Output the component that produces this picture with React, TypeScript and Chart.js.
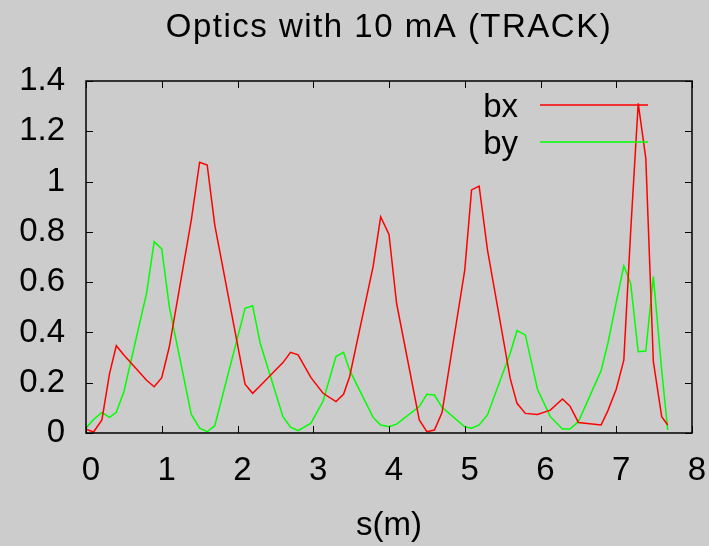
import React, { useEffect, useRef } from "react";
import { Chart, registerables } from "chart.js";

Chart.register(...registerables);

const chartTitle = "Optics with 10 mA (TRACK)";
const xAxisLabel = "s(m)";
const seriesNames = ["bx", "by"];

const sValues = [
  0, 0.1, 0.21, 0.31, 0.4, 0.5, 0.8, 0.9, 1.0, 1.1,
  1.39, 1.5, 1.6, 1.7, 2.1, 2.2, 2.3, 2.6, 2.7, 2.8,
  2.97, 3.13, 3.3, 3.4, 3.48, 3.79, 3.89, 4.0, 4.1, 4.4,
  4.5, 4.6, 4.7, 5.0, 5.09, 5.19, 5.3, 5.6, 5.69, 5.8,
  5.96, 6.13, 6.29, 6.39, 6.5, 6.8, 6.89, 7.0, 7.1, 7.19,
  7.29, 7.39, 7.49, 7.6, 7.68,
];

const bxValues = [
  0.015, 0.004, 0.052, 0.235, 0.347, 0.31, 0.21, 0.184, 0.22, 0.343,
  0.847, 1.077, 1.066, 0.827, 0.194, 0.158, 0.188, 0.28, 0.321, 0.311,
  0.22, 0.158, 0.125, 0.154, 0.224, 0.662, 0.86, 0.79, 0.516, 0.052,
  0.005, 0.012, 0.081, 0.648, 0.967, 0.982, 0.728, 0.217, 0.118, 0.078,
  0.074, 0.091, 0.135, 0.107, 0.042, 0.032, 0.089, 0.174, 0.29, 0.8,
  1.311, 1.093, 0.284, 0.065, 0.032,
];

const byValues = [
  0.02, 0.054, 0.082, 0.062, 0.082, 0.164, 0.556, 0.761, 0.732, 0.502,
  0.074, 0.019, 0.005, 0.029, 0.496, 0.506, 0.357, 0.065, 0.023, 0.009,
  0.039, 0.127, 0.304, 0.321, 0.25, 0.062, 0.032, 0.025, 0.035, 0.105,
  0.154, 0.151, 0.102, 0.025, 0.019, 0.032, 0.072, 0.317, 0.407, 0.39,
  0.174, 0.065, 0.016, 0.016, 0.045, 0.248, 0.357, 0.52, 0.665, 0.596,
  0.323, 0.326, 0.622, 0.25, 0.012,
];

const xTickValues = [0, 1, 2, 3, 4, 5, 6, 7, 8];
const yTickValues = [0, 0.2, 0.4, 0.6, 0.8, 1.0, 1.2, 1.4];

const FONT = "'Liberation Sans', Arial, sans-serif";
const BG = "#cccccc";

const framePlugin = {
  id: "gnuplotFrame",
  beforeDraw(chart: any) {
    const ctx = chart.ctx;
    ctx.save();
    ctx.fillStyle = BG;
    ctx.fillRect(0, 0, chart.width, chart.height);
    ctx.restore();
  },
  afterDraw(chart: any) {
    const ctx = chart.ctx;
    const { left, right, top, bottom } = chart.chartArea;
    const xs = chart.scales.x;
    const ys = chart.scales.y;
    ctx.save();
    // inner ticks (mirrored)
    ctx.strokeStyle = "#000";
    ctx.lineWidth = 1;
    const tl = 7;
    ctx.beginPath();
    xTickValues.forEach((v) => {
      const px = Math.round(xs.getPixelForValue(v)) + 0.5;
      ctx.moveTo(px, bottom);
      ctx.lineTo(px, bottom - tl);
      ctx.moveTo(px, top);
      ctx.lineTo(px, top + tl);
    });
    yTickValues.forEach((v) => {
      const py = Math.round(ys.getPixelForValue(v)) + 0.5;
      ctx.moveTo(left, py);
      ctx.lineTo(left + tl, py);
      ctx.moveTo(right, py);
      ctx.lineTo(right - tl, py);
    });
    ctx.stroke();
    // border
    ctx.lineWidth = 1.5;
    ctx.strokeRect(left, top, right - left, bottom - top);

    // title
    ctx.fillStyle = "#000";
    ctx.font = `33px ${FONT}`;
    ctx.textAlign = "center";
    ctx.textBaseline = "alphabetic";
    try {
      (ctx as any).letterSpacing = "1.5px";
    } catch (e) {}
    ctx.fillText(chartTitle, (left + right) / 2, 37);
    try {
      (ctx as any).letterSpacing = "0px";
    } catch (e) {}

    // x axis label
    ctx.fillText(xAxisLabel, (left + right) / 2, 535);

    // legend
    const colors = ["#ff0000", "#00ff00"];
    const rows = [105, 142];
    seriesNames.forEach((name, i) => {
      ctx.textAlign = "right";
      ctx.fillStyle = "#000";
      ctx.fillText(name, 518, rows[i] + 12);
      ctx.strokeStyle = colors[i];
      ctx.lineWidth = 1.5;
      ctx.beginPath();
      ctx.moveTo(540, rows[i]);
      ctx.lineTo(648, rows[i]);
      ctx.stroke();
    });
    ctx.restore();
  },
};

export default function App() {
  const canvasRef = useRef<HTMLCanvasElement | null>(null);

  useEffect(() => {
    const canvas = canvasRef.current;
    if (!canvas) return;
    const chart = new Chart(canvas, {
      type: "line",
      data: {
        datasets: [
          {
            label: seriesNames[0],
            data: sValues.map((s, i) => ({ x: s, y: bxValues[i] })),
            borderColor: "#ff0000",
            borderWidth: 1.5,
            pointRadius: 0,
            tension: 0,
            fill: false,
          },
          {
            label: seriesNames[1],
            data: sValues.map((s, i) => ({ x: s, y: byValues[i] })),
            borderColor: "#00ff00",
            borderWidth: 1.5,
            pointRadius: 0,
            tension: 0,
            fill: false,
          },
        ],
      },
      options: {
        responsive: false,
        animation: false,
        layout: { padding: { top: 81, right: 17, left: 0, bottom: 0 } },
        plugins: {
          legend: { display: false },
          title: { display: false },
          tooltip: { enabled: false },
        },
        scales: {
          x: {
            type: "linear",
            min: 0,
            max: 8,
            afterFit: (s: any) => {
              s.height = 113;
              s.paddingLeft = 0;
              s.paddingRight = 0;
            },
            afterBuildTicks: (s: any) => {
              s.ticks = xTickValues.map((v) => ({ value: v }));
            },
            grid: { display: false, drawTicks: false },
            border: { display: false },
            ticks: {
              color: "#000",
              font: { family: FONT, size: 33 },
              padding: 18,
              labelOffset: 5,
              maxRotation: 0,
              autoSkip: false,
            },
          },
          y: {
            type: "linear",
            min: 0,
            max: 1.4,
            afterFit: (s: any) => {
              s.width = 86;
              s.paddingTop = 0;
              s.paddingBottom = 0;
            },
            afterBuildTicks: (s: any) => {
              s.ticks = yTickValues.map((v) => ({ value: v }));
            },
            grid: { display: false, drawTicks: false },
            border: { display: false },
            ticks: {
              color: "#000",
              font: { family: FONT, size: 33 },
              padding: 21,
              autoSkip: false,
              callback: (v: any) => String(Math.round(Number(v) * 10) / 10),
            },
          },
        },
      },
      plugins: [framePlugin],
    } as any);
    return () => chart.destroy();
  }, []);

  return (
    <div
      style={{
        position: "fixed",
        left: 0,
        top: 0,
        width: 709,
        height: 546,
        background: BG,
      }}
    >
      <canvas ref={canvasRef} width={709} height={546} style={{ display: "block" }} />
    </div>
  );
}
